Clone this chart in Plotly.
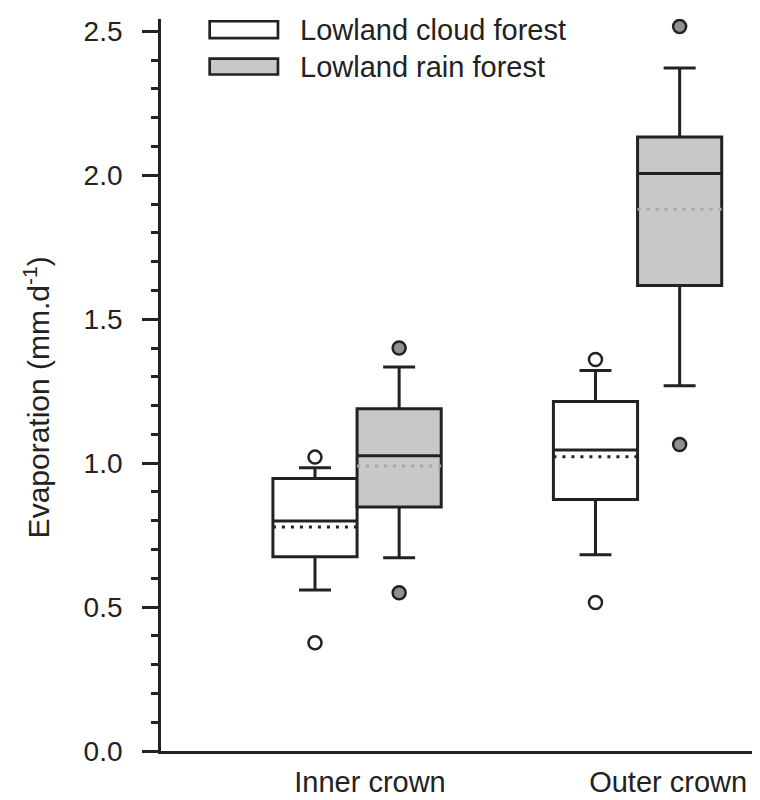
import plotly.graph_objects as go

# ---- data ----
categories = ["Inner crown", "Outer crown"]
cat_label_pos = [1.046, 2.109]
series_names = ["Lowland cloud forest", "Lowland rain forest"]
positions = {"cloud": [0.85, 1.85], "rain": [1.15, 2.15]}

cloud_q1 = [0.675, 0.874]
cloud_median = [0.799, 1.046]
cloud_q3 = [0.947, 1.214]
cloud_lower = [0.559, 0.682]
cloud_upper = [0.984, 1.322]
cloud_mean = [0.778, 1.022]
cloud_outliers_x = [0.85, 0.85, 1.85, 1.85]
cloud_outliers_y = [1.021, 0.376, 1.360, 0.516]

rain_q1 = [0.848, 1.617]
rain_median = [1.026, 2.006]
rain_q3 = [1.189, 2.133]
rain_lower = [0.671, 1.269]
rain_upper = [1.334, 2.373]
rain_mean = [0.990, 1.882]
rain_outliers_x = [1.15, 1.15, 2.15, 2.15]
rain_outliers_y = [1.400, 0.550, 2.517, 1.065]

y_ticks = [0.0, 0.5, 1.0, 1.5, 2.0, 2.5]

# ---- style ----
INK = "#222222"
FONT = "Liberation Sans, Arial, sans-serif"
BOXW = 0.3
LW = 3

fig = go.Figure()

def add_box(name, xs, q1, med, q3, lo, hi, fill):
    fig.add_trace(go.Box(
        name=name, x=xs, q1=q1, median=med, q3=q3,
        lowerfence=lo, upperfence=hi, width=BOXW, whiskerwidth=0.38,
        fillcolor=fill, line=dict(color=INK, width=LW),
        boxpoints=False, showlegend=False, hoverinfo="skip"))

add_box(series_names[0], positions["cloud"], cloud_q1, cloud_median, cloud_q3,
        cloud_lower, cloud_upper, "white")
add_box(series_names[1], positions["rain"], rain_q1, rain_median, rain_q3,
        rain_lower, rain_upper, "#c8c8c8")

def add_mean(xs, means, color):
    lx, ly = [], []
    for x, m in zip(xs, means):
        lx += [x - BOXW / 2, x + BOXW / 2, None]
        ly += [m, m, None]
    fig.add_trace(go.Scatter(x=lx, y=ly, mode="lines",
                             line=dict(color=color, width=3, dash="3px,6px"),
                             showlegend=False, hoverinfo="skip"))

add_mean(positions["cloud"], cloud_mean, INK)
add_mean(positions["rain"], rain_mean, "#a8a8a8")

fig.add_trace(go.Scatter(x=cloud_outliers_x, y=cloud_outliers_y, mode="markers",
                         marker=dict(size=13, color="white", line=dict(color=INK, width=2.5)),
                         showlegend=False, hoverinfo="skip"))
fig.add_trace(go.Scatter(x=rain_outliers_x, y=rain_outliers_y, mode="markers",
                         marker=dict(size=13, color="#909090", line=dict(color=INK, width=2.5)),
                         showlegend=False, hoverinfo="skip"))

# ---- manual legend ----
leg_rows = [(0.9969, 0.974, "white"), (0.9458, 0.9242, "#c8c8c8")]
for (y1, y0, fill), name in zip(leg_rows, series_names):
    fig.add_shape(type="rect", xref="paper", yref="paper",
                  x0=0.0802, x1=0.1927, y0=y0, y1=y1,
                  fillcolor=fill, line=dict(color=INK, width=2.7))
    fig.add_annotation(xref="paper", yref="paper", x=0.2257, y=(y0 + y1) / 2,
                       text=name, showarrow=False, xanchor="left", yanchor="middle",
                       font=dict(family=FONT, size=29, color=INK))

fig.add_annotation(xref="paper", yref="paper", x=-0.205, y=0.4825,
                   text="Evaporation (mm.d<sup>-1</sup>)", textangle=-90,
                   showarrow=False, xanchor="center", yanchor="middle",
                   font=dict(family=FONT, size=30, color=INK))

fig.update_layout(
    width=760, height=800,
    margin=dict(l=153, r=0, t=11, b=57),
    plot_bgcolor="white", paper_bgcolor="white",
    font=dict(family=FONT, color=INK),
    boxmode="overlay",
    xaxis=dict(range=[0.301, 2.465], showgrid=False, zeroline=False,
               showline=True, linecolor=INK, linewidth=2.7,
               tickmode="array", tickvals=cat_label_pos, ticktext=categories,
               ticks="", tickfont=dict(size=29, family=FONT, color=INK),
               ticklabelstandoff=3),
    yaxis=dict(range=[0, 2.543], showgrid=False, zeroline=False,
               showline=True, linecolor=INK, linewidth=2.7,
               tickmode="array", tickvals=y_ticks, tickformat=".1f",
               ticks="outside", ticklen=16, tickwidth=2.7, tickcolor=INK,
               tickfont=dict(size=28, family=FONT, color=INK),
               ticklabelstandoff=14,
               minor=dict(dtick=0.1, ticks="outside", ticklen=7,
                          tickwidth=2.7, tickcolor=INK, showgrid=False)),
)

fig.write_html("out.html")
